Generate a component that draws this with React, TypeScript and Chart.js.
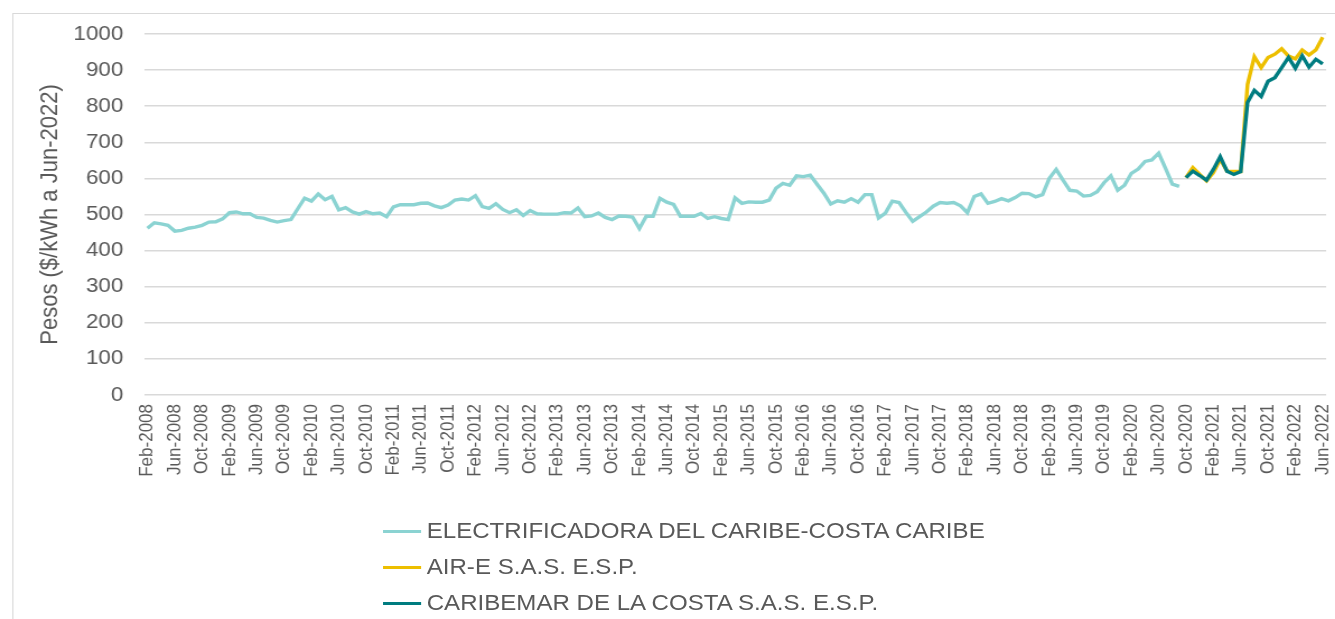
import React, { useEffect, useRef } from 'react';
import { Chart, registerables } from 'chart.js';

Chart.register(...registerables);

// ---------- data ----------
const MONTH_NAMES = ['Ene', 'Feb', 'Mar', 'Abr', 'May', 'Jun', 'Jul', 'Ago', 'Sep', 'Oct', 'Nov', 'Dic'];
const FIRST_YEAR = 2008;
const FIRST_MONTH_INDEX = 1; // Feb
const MONTH_COUNT = 173; // Feb-2008 .. Jun-2022
const categories: string[] = Array.from({ length: MONTH_COUNT }, (_, i) => {
  const m = FIRST_MONTH_INDEX + i;
  return `${MONTH_NAMES[m % 12]}-${FIRST_YEAR + Math.floor(m / 12)}`;
});
const TICK_EVERY = 4; // Feb, Jun, Oct

const seriesNames = [
  'ELECTRIFICADORA DEL CARIBE-COSTA CARIBE',
  'AIR-E S.A.S. E.S.P.',
  'CARIBEMAR DE LA COSTA S.A.S. E.S.P.',
];
const seriesColors = ['#8BD3D2', '#EDBF00', '#007C80'];

// Feb-2008 .. Sep-2020
const electrificadora = [
  462, 477, 474, 470, 454, 456, 462, 465, 470, 479, 480, 488,
  505, 507, 502, 502, 492, 490, 484, 479, 483, 486, 516, 545,
  537, 557, 541, 550, 513, 519, 507, 501, 508, 502, 504, 494,
  521, 527, 527, 527, 531, 532, 524, 519, 526, 540, 543, 540,
  552, 522, 517, 530, 514, 505, 513, 497, 511, 502, 501, 501,
  501, 505, 504, 518, 494, 496, 504, 492, 486, 496, 495, 493,
  461, 495, 495, 545, 534, 528, 495, 495, 495, 503, 489, 494,
  489, 486, 546, 531, 535, 534, 534, 540, 573, 586, 581, 607,
  605, 609, 584, 559, 529, 538, 534, 544, 534, 555, 555, 490,
  504, 537, 533, 506, 481, 494, 507, 523, 533, 531, 533, 524,
  505, 550, 557, 531, 536, 544, 538, 547, 559, 558, 549, 555,
  600, 625, 595, 567, 565, 551, 553, 563, 588, 607, 567, 581,
  614, 626, 647, 651, 670, 628, 584, 578,
];

const NEW_SERIES_START = 'Oct-2020';
// Oct-2020 .. Jun-2022
const airE = [602, 630, 611, 593, 616, 653, 620, 619, 619, 860, 937, 907, 935, 944, 959, 939, 931, 956, 942, 956, 991];
const caribemar = [602, 620, 608, 595, 625, 660, 620, 611, 619, 810, 844, 827, 869, 879, 907, 935, 905, 940, 908, 930, 917];

const Y_TICKS = [0, 100, 200, 300, 400, 500, 600, 700, 800, 900, 1000];
const Y_TITLE = 'Pesos ($/kWh a Jun-2022)';

// ---------- layout ----------
const STRETCH = 1.12;
const FONT = '"Liberation Sans", Arial, Helvetica, sans-serif';
const TEXT_COLOR = '#595959';
const INNER_W = 1192;
const CANVAS_H = 490;

function padFrom(start: string, values: number[]): (number | null)[] {
  const idx = categories.indexOf(start);
  return categories.map((_, i) => (i >= idx && i - idx < values.length ? values[i - idx] : null));
}

export default function App() {
  const canvasRef = useRef<HTMLCanvasElement | null>(null);

  useEffect(() => {
    if (!canvasRef.current) return;
    const line = (i: number, data: (number | null)[], order: number) => ({
      label: seriesNames[i],
      data,
      borderColor: seriesColors[i],
      backgroundColor: seriesColors[i],
      borderWidth: 3.4,
      pointRadius: 0,
      tension: 0,
      order,
    });
    const chart = new Chart(canvasRef.current, {
      type: 'line',
      data: {
        labels: categories,
        datasets: [
          line(0, electrificadora, 2),
          line(1, padFrom(NEW_SERIES_START, airE), 1),
          line(2, padFrom(NEW_SERIES_START, caribemar), 0),
        ],
      },
      options: {
        animation: false,
        responsive: true,
        maintainAspectRatio: false,
        layout: { padding: { left: 31.4, top: 34, right: 8, bottom: 10 } },
        plugins: {
          legend: { display: false },
          tooltip: { enabled: false },
        },
        scales: {
          x: {
            type: 'category',
            offset: true,
            grid: { display: false, drawTicks: false },
            border: { display: false },
            ticks: {
              autoSkip: false,
              minRotation: 90,
              maxRotation: 90,
              padding: 9,
              color: TEXT_COLOR,
              font: { family: FONT, size: 17 },
              callback: (_v: any, i: number) => (i % TICK_EVERY === 0 ? categories[i] : null),
            },
            afterFit: (s: any) => {
              s.height = 85;
              s.paddingLeft = 0;
              s.paddingRight = 0;
            },
          },
          y: {
            min: Y_TICKS[0],
            max: Y_TICKS[Y_TICKS.length - 1],
            ticks: {
              stepSize: Y_TICKS[1] - Y_TICKS[0],
              padding: 18.6,
              color: TEXT_COLOR,
              font: { family: FONT, size: 20 },
              callback: (v: any) => String(v),
            },
            grid: { color: '#d9d9d9', lineWidth: 1.6, drawTicks: false },
            border: { display: false },
            title: {
              display: true,
              text: Y_TITLE,
              color: TEXT_COLOR,
              font: { family: FONT, size: 22 },
              padding: 0,
            },
            afterFit: (s: any) => {
              s.width = 97.2;
            },
          },
        },
      },
    });
    return () => chart.destroy();
  }, []);

  return (
    <div
      style={{
        position: 'fixed',
        left: 0,
        top: 0,
        width: 1335,
        height: 619,
        overflow: 'hidden',
        background: '#ffffff',
      }}
    >
      <div
        style={{
          position: 'absolute',
          left: 0,
          top: 0,
          width: INNER_W,
          height: 619,
          transform: `scaleX(${STRETCH})`,
          transformOrigin: '0 0',
          fontFamily: FONT,
        }}
      >
        <div
          style={{
            position: 'absolute',
            left: 10.7,
            top: 13,
            width: 1300,
            height: 700,
            border: '1px solid #d9d9d9',
            boxSizing: 'border-box',
          }}
        />
        <div style={{ position: 'absolute', left: 0, top: 0, width: INNER_W, height: CANVAS_H }}>
          <canvas ref={canvasRef} />
        </div>
        {seriesNames.map((name, i) => (
          <div
            key={name}
            style={{
              position: 'absolute',
              left: 342,
              top: 531 + 36 * i - 13,
              height: 26,
              display: 'flex',
              alignItems: 'center',
              whiteSpace: 'nowrap',
            }}
          >
            <div style={{ width: 34, height: 3, background: seriesColors[i], marginRight: 5 }} />
            <span style={{ fontSize: 21.5, color: TEXT_COLOR, lineHeight: '26px' }}>{name}</span>
          </div>
        ))}
      </div>
    </div>
  );
}
